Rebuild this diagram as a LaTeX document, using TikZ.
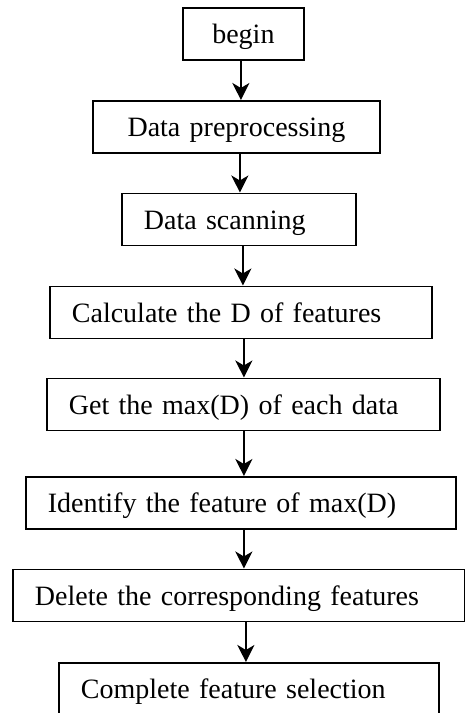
\documentclass[tikz,border=0pt]{standalone}
\usepackage{fontspec}
\setmainfont{Liberation Serif}
\usetikzlibrary{arrows.meta}
\begin{document}
\begin{tikzpicture}[x=1pt,y=-1pt,
  stepbox/.style={draw, line width=1.8pt, anchor=north west,
    minimum height=52pt, inner xsep=22pt, inner ysep=0pt,
    text height=26pt, text depth=6pt,
    font=\fontsize{28}{32}\selectfont, align=left},
  arr/.style={line width=2.4pt, -{Stealth[length=17pt,width=17pt,inset=5pt]}}]
\useasboundingbox (0,0) rectangle (465,713);

% process steps
\node[stepbox, text width=77pt, align=center] (b1) at (182,7) {begin};
\node[stepbox, text width=243pt, align=center] (b2) at (92,100) {Data preprocessing};
\node[stepbox, text width=190pt] (b3) at (121,192.5) {Data scanning};
\node[stepbox, text width=338pt] (b4) at (49,285.5) {Calculate the D of features};
\node[stepbox, text width=349pt] (b5) at (46,377.5) {Get the max(D) of each data};
\node[stepbox, text width=386pt] (b6) at (25,476) {Identify the feature of max(D)};
\node[stepbox, text width=408pt] (b7) at (12,568.5) {Delete the corresponding features};
\node[stepbox, text width=336pt] (b8) at (58,662) {Complete feature selection};

% flow arrows
\draw[arr] ([xshift=-2.5pt]b1.south) -- ([xshift=-2.5pt]b1.south |- b2.north);
\draw[arr] ([xshift=3.5pt]b2.south) -- ([xshift=3.5pt]b2.south |- b3.north);
\draw[arr] ([xshift=4pt]b3.south) -- ([xshift=4pt]b3.south |- b4.north);
\draw[arr] ([xshift=3pt]b4.south) -- ([xshift=3pt]b4.south |- b5.north);
\draw[arr] ([xshift=0.5pt]b5.south) -- ([xshift=0.5pt]b5.south |- b6.north);
\draw[arr] ([xshift=3pt]b6.south) -- ([xshift=3pt]b6.south |- b7.north);
\draw[arr] ([xshift=7pt]b7.south) -- ([xshift=7pt]b7.south |- b8.north);
\end{tikzpicture}
\end{document}
